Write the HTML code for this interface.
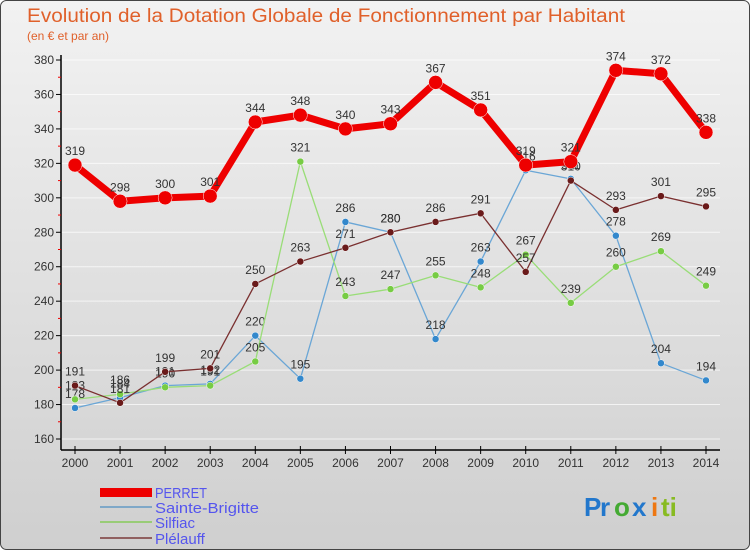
<!DOCTYPE html>
<html><head><meta charset="utf-8"><style>
body{margin:0}
#c{width:750px;height:550px;position:relative;overflow:hidden}
svg text{font-family:"Liberation Sans",sans-serif}
</style></head><body>
<div id="c">
<svg id="s" width="750" height="550" xmlns="http://www.w3.org/2000/svg">
<defs><linearGradient id="bg" x1="0" y1="0" x2="0" y2="1"><stop offset="0" stop-color="#f2f2f2"/><stop offset="1" stop-color="#cfcfcf"/></linearGradient></defs>
<rect x="0.5" y="0.5" width="749" height="549" rx="6" fill="url(#bg)" stroke="#444"/>
<text x="27" y="22" font-size="19" fill="#e0602a" textLength="598" lengthAdjust="spacingAndGlyphs">Evolution de la Dotation Globale de Fonctionnement par Habitant</text>
<text x="27" y="40" font-size="12" fill="#e0602a">(en € et par an)</text>
<g id="axes"></g><g id="series"></g>
<g font-size="15" fill="#5555ee">
<rect x="100" y="488" width="52" height="9" fill="#ee0000"/>
<text x="155" y="498" fill="#5555ee" font-size="15" textLength="52" lengthAdjust="spacingAndGlyphs">PERRET</text>
<line x1="100" y1="507" x2="152" y2="507" stroke="#7fa8c8" stroke-width="2"/>
<text x="155" y="513" fill="#5555ee" textLength="104" lengthAdjust="spacingAndGlyphs">Sainte-Brigitte</text>
<line x1="100" y1="522" x2="152" y2="522" stroke="#99cc77" stroke-width="2"/>
<text x="155" y="528" fill="#5555ee">Silfiac</text>
<line x1="100" y1="538" x2="152" y2="538" stroke="#906060" stroke-width="2"/>
<text x="155" y="544" fill="#5555ee">Plélauff</text>
</g>
<g font-size="26" font-weight="bold">
<text x="584" y="516" fill="#2277cc">P</text><text x="600" y="516" fill="#2277cc">r</text><text x="614" y="516" fill="#44aa33">o</text><text x="632" y="516" fill="#2277cc">x</text><text x="651" y="516" fill="#ee7711">i</text><text x="661" y="516" fill="#88bb22">ti</text>
</g>
</svg></div>
<script>
const years=[2000,2001,2002,2003,2004,2005,2006,2007,2008,2009,2010,2011,2012,2013,2014];
const yTicks=[160,180,200,220,240,260,280,300,320,340,360,380];
const perret=[319,298,300,301,344,348,340,343,367,351,319,321,374,372,338];
const sainteBrigitte=[178,184,191,192,220,195,286,280,218,263,316,311,278,204,194];
const silfiac=[183,186,190,191,205,321,243,247,255,248,267,239,260,269,249];
const plelauff=[191,181,199,201,250,263,271,280,286,291,257,310,293,301,295];
const NS="http://www.w3.org/2000/svg";
const xs=i=>75+i*(706-75)/(years.length-1);
const ys=v=>439-(v-160)*(439-60)/220;
function mk(t,a,p){const e=document.createElementNS(NS,t);for(const k in a)e.setAttribute(k,a[k]);p.appendChild(e);return e;}
const ax=document.getElementById('axes');
yTicks.forEach((v,i)=>{
 const y=ys(v);
 mk('line',{x1:61,y1:y,x2:720,y2:y,stroke:'#fff','stroke-width':1,opacity:0.7},ax);
});
const yl=mk('line',{x1:61,y1:55,x2:61,y2:450,stroke:'#000','stroke-width':1.5},ax);


const xl=mk('line',{x1:61,y1:450,x2:720,y2:450,stroke:'#000','stroke-width':1.5},ax);


yTicks.forEach((v,i)=>{
 const y=ys(v);
 mk('line',{x1:56,y1:y,x2:61,y2:y,stroke:'#000'},ax);
 if(i<yTicks.length-1){const ym=ys(v+10);mk('line',{x1:58,y1:ym,x2:61,y2:ym,stroke:'#e00'},ax);}
 const t=mk('text',{x:54,y:y+4,'text-anchor':'end','font-size':12,fill:'#333'},ax);
 t.textContent=v;
 
 
});
years.forEach((yr,i)=>{
 const x=xs(i);
 mk('line',{x1:x,y1:446,x2:x,y2:454,stroke:'#000'},ax);
 const t=mk('text',{x:x,y:467,'text-anchor':'middle','font-size':12,fill:'#333'},ax);
 t.textContent=yr;
 
 
});
const sg=document.getElementById('series');
function draw(vals,name,col,dot,w,r){
 const g=mk('g',{},sg);
 
 
 const p=mk('polyline',{points:vals.map((v,i)=>xs(i)+','+ys(v)).join(' '),fill:'none',stroke:col,'stroke-width':w,'stroke-linejoin':'round'},g);
 
 
 vals.forEach((v,i)=>{
  const c=mk('circle',{cx:xs(i),cy:ys(v),r:r,fill:dot,stroke:'#fff','stroke-width':0.5},g);
  
  
  const t=mk('text',{x:xs(i),y:ys(v)-10,'text-anchor':'middle','font-size':12,fill:'#333'},g);
  t.textContent=v;
  
  
 });
}
draw(sainteBrigitte,'sainte-brigitte','#6aa6d6','#3388cc',1.3,3.5);
draw(silfiac,'silfiac','#99dd77','#77cc44',1.3,3.5);
draw(plelauff,'plelauff','#7a3030','#6a1a1a',1.3,3.5);
draw(perret,'perret','#ee0000','#ee0000',7,7);
</script>
</body></html>
